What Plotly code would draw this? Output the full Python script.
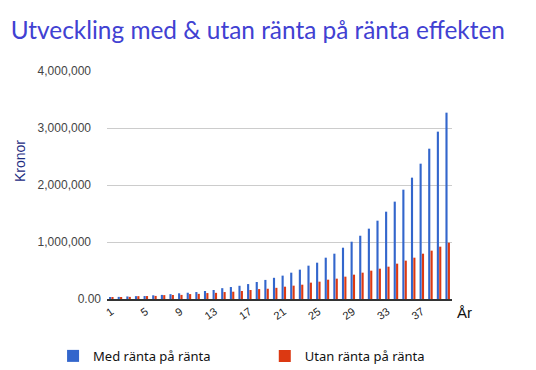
import plotly.graph_objects as go

years = list(range(1, 41))
med_ranta = [35, 37, 45, 50, 52, 65, 72, 85, 100, 110,
             122, 140, 158, 190, 210, 232, 262, 298, 335, 372,
             410, 462, 515, 585, 637, 725, 795, 900, 1005, 1110,
             1234, 1374, 1532, 1708, 1918, 2129, 2374, 2637, 2936, 3269]
utan_ranta = [33, 35, 37, 50, 52, 54, 68, 70, 72, 86,
              90, 104, 108, 122, 128, 140, 158, 174, 180, 196,
              216, 234, 251, 287, 304, 339, 357, 392, 427, 462,
              497, 532, 567, 620, 673, 725, 795, 848, 918, 988]
med_ranta = [v * 1000 for v in med_ranta]
utan_ranta = [v * 1000 for v in utan_ranta]
tick_years = [1, 5, 9, 13, 17, 21, 25, 29, 33, 37]
y_ticks = [0, 1000000, 2000000, 3000000, 4000000]
y_tick_text = ["0.00", "1,000,000", "2,000,000", "3,000,000", "4,000,000"]

pad = "\u00a0\u00a0\u00a0"
fig = go.Figure()
fig.add_trace(go.Bar(x=years, y=med_ranta, name="Med ränta på ränta",
                     marker_color="#3366cc", marker_line_width=0,
                     legend="legend", showlegend=True))
fig.add_trace(go.Bar(x=years, y=utan_ranta, name="Utan ränta på ränta",
                     marker_color="#dc3912", marker_line_width=0,
                     legend="legend2", showlegend=True))

legend_font = dict(family="Noto Sans", size=13, color="#111111")
fig.update_layout(
    width=536, height=370, showlegend=True,
    margin=dict(l=107, r=84, t=71, b=71, autoexpand=False),
    paper_bgcolor="white", plot_bgcolor="white",
    barmode="group", bargap=0.45, bargroupgap=0.1,
    title=dict(text="Utveckling med & utan ränta på ränta effekten",
               x=0.481, xanchor="center", xref="container", y=0.919, yanchor="middle",
               font=dict(family="Lato", size=24.4, color="#4141d2")),
    xaxis=dict(range=[0.5, 40.5], tickmode="array", tickvals=tick_years,
               ticktext=[str(t) for t in tick_years], tickangle=-35,
               showgrid=False, showline=True, linecolor="#333333", linewidth=2,
               ticks="", tickfont=dict(family="Arial", size=11, color="#222222"),
               zeroline=False, automargin=False),
    yaxis=dict(range=[0, 4000000], tickmode="array", tickvals=y_ticks,
               ticktext=[y_tick_text[0]] + [t + pad for t in y_tick_text[1:]],
               showgrid=True, gridcolor="#cccccc",
               gridwidth=1, zeroline=False, ticks="", ticklen=0,
               ticklabelstandoff=5, automargin=False,
               tickfont=dict(family="Arial", size=12, color="#444444")),
    legend=dict(xref="container", yref="container", x=0.099,
                xanchor="left", y=0.038, yanchor="middle", font=legend_font,
                itemwidth=30, bgcolor="rgba(0,0,0,0)", visible=True),
    legend2=dict(xref="container", yref="container", x=0.494,
                 xanchor="left", y=0.038, yanchor="middle", font=legend_font,
                 itemwidth=30, bgcolor="rgba(0,0,0,0)", visible=True),
)
fig.add_annotation(text="Kronor", xref="paper", yref="paper", x=-0.252, y=0.605,
                   xanchor="center", yanchor="middle", textangle=-90, showarrow=False,
                   font=dict(family="Arial", size=14, color="#1c2b7f"))
fig.add_annotation(text="År", xref="paper", yref="paper", x=1.009, y=-0.061,
                   xanchor="left", yanchor="middle", showarrow=False,
                   font=dict(family="Arial", size=15, color="#111111"))
fig.write_html("out.html", post_script="document.body.style.margin='0';",
               config={"displayModeBar": False})
